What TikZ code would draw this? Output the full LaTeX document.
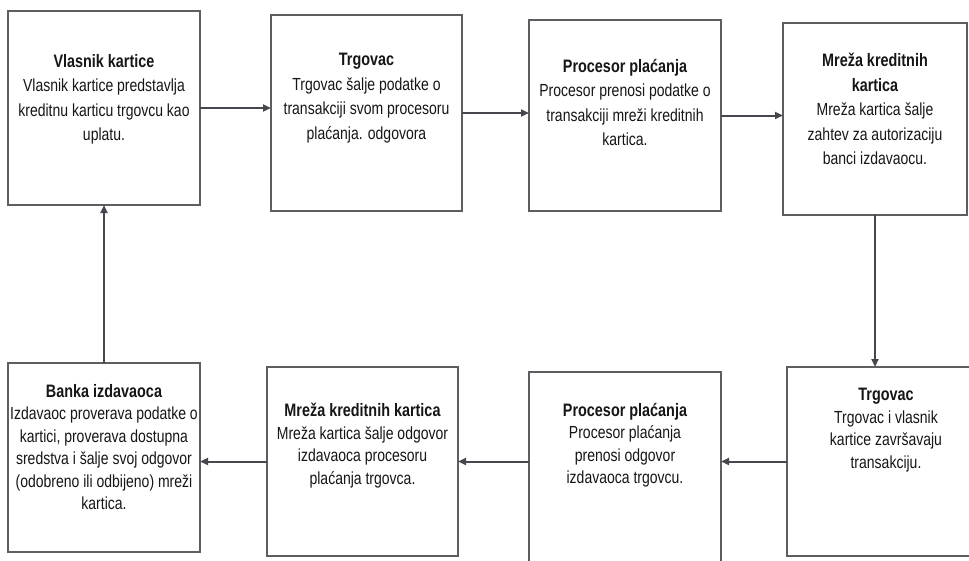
\documentclass[tikz,border=0pt]{standalone}
\usepackage{fontspec}
\setmainfont{Liberation Sans}[FakeStretch=0.8]
\usetikzlibrary{arrows.meta}
\definecolor{boxgray}{HTML}{5E5E62}
\definecolor{arrowgray}{HTML}{46464C}
\definecolor{inkgray}{HTML}{161616}
\newcommand\hd[1]{{\fontsize{18}{22.5}\selectfont\bfseries #1}}
\begin{document}
\begin{tikzpicture}[x=1pt,y=-1pt,
  box/.style={draw=boxgray, line width=2.3pt, fill=white, inner sep=0pt, outer sep=0pt},
  boxtext/.style={align=center, font=\fontsize{17.5}{22.5}\selectfont, text=inkgray, inner sep=0pt, anchor=north},
  toptext/.style={boxtext, font=\fontsize{17.5}{24.5}\selectfont},
  flow/.style={draw=arrowgray, line width=2pt, -{Triangle[length=8pt,width=7pt]}}]
\useasboundingbox (0,0) rectangle (969,560);
\fill[white] (0,0) rectangle (969,560);
\begin{scope}
\clip (0,0) rectangle (969,560);
% top row
\node[box, minimum width=192pt, minimum height=194pt] (b1) at (104,108) {};
\node[box, minimum width=191pt, minimum height=196pt] (b2) at (366.5,113) {};
\node[box, minimum width=192pt, minimum height=191pt] (b3) at (625,115.5) {};
\node[box, minimum width=184pt, minimum height=192pt] (b4) at (875,119) {};
% bottom row
\node[box, minimum width=192pt, minimum height=189pt] (b5) at (104,457.5) {};
\node[box, minimum width=191pt, minimum height=189pt] (b6) at (362.5,461.5) {};
\node[box, minimum width=192pt, minimum height=194pt] (b7) at (625,469) {};
\node[box, minimum width=198pt, minimum height=189pt] (b8) at (886,461.5) {};
\end{scope}

% box texts
\node[toptext] (t1) at (104,54) {\hd{Vlasnik kartice}\\Vlasnik kartice predstavlja\\kreditnu karticu trgovcu kao\\uplatu.};
\node[toptext] (t2) at (366.5,53) {\hd{Trgovac}\\Trgovac šalje podatke o\\transakciji svom procesoru\\plaćanja. odgovora};
\node[toptext] (t3) at (625,59) {\hd{Procesor plaćanja}\\Procesor prenosi podatke o\\transakciji mreži kreditnih\\kartica.};
\node[toptext] (t4) at (875,53) {\hd{Mreža kreditnih}\\\hd{kartica}\\Mreža kartica šalje\\zahtev za autorizaciju\\banci izdavaocu.};
\node[boxtext] (t5) at (104,384) {\hd{Banka izdavaoca}\\Izdavaoc proverava podatke o\\kartici, proverava dostupna\\sredstva i šalje svoj odgovor\\(odobreno ili odbijeno) mreži\\kartica.};
\node[boxtext] (t6) at (362.5,403) {\hd{Mreža kreditnih kartica}\\Mreža kartica šalje odgovor\\izdavaoca procesoru\\plaćanja trgovca.};
\node[boxtext] (t7) at (625,403) {\hd{Procesor plaćanja}\\Procesor plaćanja\\prenosi odgovor\\izdavaoca trgovcu.};
\node[boxtext] (t8) at (886,388) {\hd{Trgovac}\\Trgovac i vlasnik\\kartice završavaju\\transakciju.};

% connectors
\draw[flow] (b1.east) -- (b2.west |- b1.east);
\draw[flow] (b2.east) -- (b3.west |- b2.east);
\draw[flow] (b3.east) -- (b4.west |- b3.east);
\draw[flow] (b4.south) -- (b4.south |- b8.north);
\draw[flow] (b8.west) -- (b7.east |- b8.west);
\draw[flow] (b7.west |- b8.west) -- (b6.east |- b8.west);
\draw[flow] (b6.west |- b8.west) -- (b5.east |- b8.west);
\draw[flow] (b5.north) -- (b1.south);
\end{tikzpicture}
\end{document}
